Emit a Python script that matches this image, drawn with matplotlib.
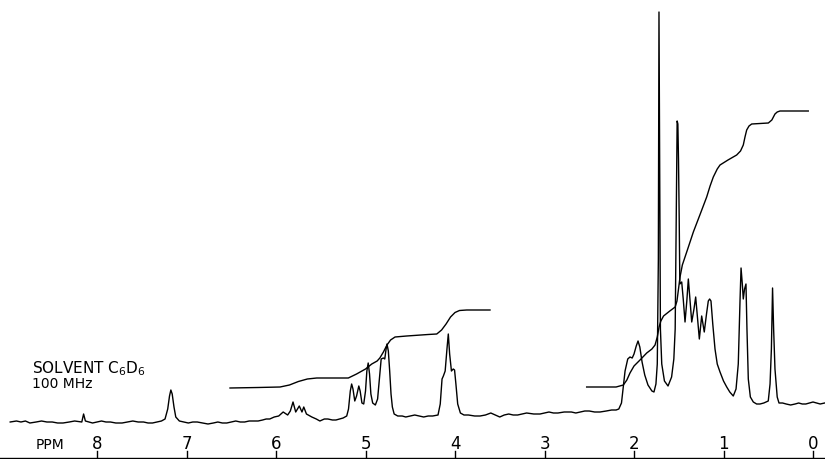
import matplotlib
matplotlib.use("Agg")
import matplotlib.pyplot as plt

# traced spectrum (ppm, height above chart bottom)
spec_ppm = [8.97, 8.90, 8.85, 8.80, 8.75, 8.68, 8.62, 8.56, 8.50, 8.44, 8.38, 8.31, 8.25, 8.17,
            8.15, 8.13, 8.09, 8.05, 8.00, 7.95, 7.90, 7.85, 7.79, 7.72, 7.66, 7.60, 7.54, 7.48,
            7.43, 7.38, 7.33, 7.28, 7.24, 7.21, 7.19, 7.175, 7.16, 7.14, 7.12, 7.08, 7.03, 6.98,
            6.93, 6.88, 6.82, 6.76, 6.70, 6.65, 6.60, 6.55, 6.50, 6.45, 6.40, 6.35, 6.30, 6.25,
            6.20, 6.15, 6.11, 6.07, 6.02, 5.97, 5.92, 5.87, 5.84, 5.81, 5.78, 5.74, 5.71, 5.69,
            5.66, 5.60, 5.55, 5.51, 5.46, 5.42, 5.37, 5.33, 5.29, 5.25, 5.21, 5.19, 5.17, 5.155,
            5.14, 5.12, 5.10, 5.075, 5.06, 5.04, 5.02, 5.00, 4.985, 4.97, 4.955, 4.94, 4.92,
            4.89, 4.865, 4.845, 4.825, 4.80, 4.785, 4.77, 4.76, 4.745, 4.73, 4.715, 4.70, 4.68,
            4.64, 4.59, 4.55, 4.50, 4.45, 4.40, 4.35, 4.30, 4.25, 4.19, 4.165, 4.145, 4.13,
            4.11, 4.09, 4.075, 4.06, 4.04, 4.02, 4.005, 3.99, 3.97, 3.94, 3.90, 3.85, 3.78, 3.72,
            3.66, 3.60, 3.55, 3.50, 3.45, 3.40, 3.35, 3.30, 3.25, 3.20, 3.12, 3.05, 3.00, 2.95,
            2.90, 2.85, 2.78, 2.70, 2.65, 2.60, 2.55, 2.50, 2.44, 2.38, 2.31, 2.25, 2.20, 2.17,
            2.14, 2.12, 2.10, 2.07, 2.045, 2.02, 2.00, 1.975, 1.955, 1.935, 1.91, 1.88, 1.844,
            1.80, 1.777, 1.755, 1.74, 1.728, 1.721, 1.714, 1.705, 1.69, 1.66, 1.62, 1.58, 1.555,
            1.54, 1.527, 1.518, 1.51, 1.503, 1.495, 1.488, 1.467, 1.45, 1.430, 1.41, 1.393,
            1.375, 1.355, 1.33, 1.311, 1.29, 1.270, 1.244, 1.215, 1.19, 1.170, 1.155, 1.140,
            1.12, 1.095, 1.07, 1.039, 1.00, 0.964, 0.93, 0.891, 0.86, 0.835, 0.815, 0.804, 0.79,
            0.779, 0.765, 0.749, 0.738, 0.723, 0.70, 0.667, 0.63, 0.592, 0.55, 0.50, 0.48,
            0.465, 0.452, 0.44, 0.425, 0.40, 0.38, 0.34, 0.30, 0.25, 0.20, 0.16, 0.12, 0.08,
            0.04, 0.00, -0.04, -0.08, -0.13]
spec_h = [37, 38, 37, 38, 36, 37, 38, 37, 37, 36, 36, 37, 38, 37,
          45, 38, 37, 36, 37, 38, 37, 37, 36, 36, 37, 38, 37, 37,
          36, 36, 37, 38, 40, 50, 63, 69, 65, 52, 42, 38, 37, 36,
          37, 37, 36, 35, 36, 37, 36, 36, 37, 38, 37, 37, 38, 38,
          38, 39, 40, 40, 42, 43, 47, 44, 48, 57, 47, 53, 47, 52,
          45, 42, 40, 38, 40, 40, 39, 39, 40, 41, 43, 50, 68, 75,
          70, 58, 63, 73, 68, 56, 55, 68, 88, 96, 85, 65, 56,
          54, 60, 80, 100, 101, 100, 110, 115, 108, 88, 65, 52, 45,
          43, 43, 42, 43, 44, 43, 42, 43, 43, 44, 55, 80, 83,
          88, 110, 125, 105, 88, 90, 89, 75, 55, 46, 44, 44, 43, 43,
          44, 46, 44, 42, 44, 45, 44, 44, 45, 46, 45, 45, 46, 47,
          46, 46, 47, 47, 46, 47, 48, 48, 47, 47, 48, 49, 49, 50,
          56, 72, 88, 100, 102, 101, 105, 113, 118, 112, 97, 84, 74,
          68, 67, 75, 95, 200, 447, 300, 130, 95, 78, 73, 82, 100,
          130, 250, 338, 335, 300, 240, 175, 177, 160, 137, 158, 180,
          160, 137, 150, 162, 140, 120, 143, 127, 145, 158, 160, 158,
          135, 110, 95, 87, 78, 72, 67, 63, 70, 95, 160, 191, 175,
          160, 170, 175, 130, 80, 62, 57, 55, 55, 56, 58, 75,
          110, 171, 130, 90, 62, 56, 56, 55, 54, 55, 56, 55, 55,
          56, 57, 56, 55, 56]

# integral traces
int_mid_ppm = [6.514, 6.20, 5.955, 5.85, 5.75, 5.65, 5.545, 5.192, 5.10, 5.00, 4.93, 4.87,
               4.84, 4.80, 4.76, 4.72, 4.67, 4.54, 4.30, 4.204, 4.15, 4.10, 4.05, 4.00, 3.95,
               3.869, 3.609]
int_mid_h = [71, 71.5, 72, 74, 77.5, 80, 81, 81, 85, 90, 95, 98,
             101, 107, 114, 119, 122, 123, 124.5, 125, 129, 135, 142, 146.5, 148.5,
             149, 149]

int_right_ppm = [2.529, 2.20, 2.119, 2.08, 2.045, 2.00, 1.933, 1.858, 1.80, 1.765, 1.74,
                 1.72, 1.70, 1.67, 1.60, 1.54, 1.52, 1.50, 1.486, 1.46, 1.40, 1.337, 1.26,
                 1.188, 1.15, 1.114, 1.07, 1.039, 0.95, 0.853, 0.81, 0.779, 0.76, 0.741,
                 0.715, 0.685, 0.499, 0.46, 0.425, 0.40, 0.369, 0.053]
int_right_h = [72, 72, 74, 79, 86, 93, 99, 106, 110, 114, 122,
               132, 138, 143, 148, 152, 158, 172, 182, 194, 210, 227, 245,
               262, 273, 282, 290, 294, 299, 304, 308, 314, 322, 329,
               333, 335, 336, 339, 345, 347, 348, 348]

tick_ppm = [8, 7, 6, 5, 4, 3, 2, 1, 0]
tick_labels = ["8", "7", "6", "5", "4", "3", "2", "1", "0"]

plt.rcParams["mathtext.default"] = "regular"

fig = plt.figure(figsize=(8.25, 4.6), dpi=100)
ax = fig.add_axes([0, 0, 1, 1])
ax.set_xlim(9.084, -0.134)
ax.set_ylim(0, 460)
ax.axis("off")

ax.plot(spec_ppm, spec_h, color="black", lw=1.0)
ax.plot(int_mid_ppm, int_mid_h, color="black", lw=1.0)
ax.plot(int_right_ppm, int_right_h, color="black", lw=1.0)

# ppm scale along the bottom
ax.axhline(1, color="black", lw=1.0)
for p, lab in zip(tick_ppm, tick_labels):
    ax.plot([p, p], [1, 8], color="black", lw=1.0)
    ax.text(p, 11, lab, ha="center", va="baseline", fontsize=12)
ax.text(8.69, 11, "PPM", ha="left", va="baseline", fontsize=10)

ax.text(8.73, 87, "SOLVENT C$_6$D$_6$", ha="left", va="baseline", fontsize=11)
ax.text(8.73, 72, "100 MHz", ha="left", va="baseline", fontsize=10)

fig.savefig("out.png", dpi=100)
